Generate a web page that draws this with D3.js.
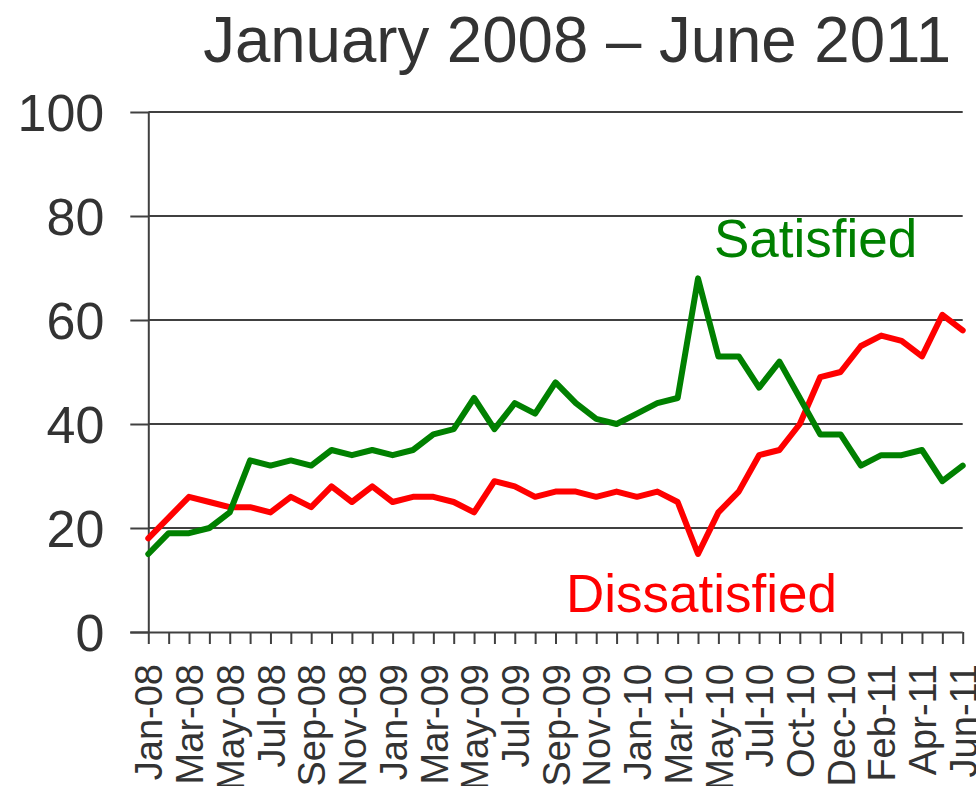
<!DOCTYPE html>
<html>
<head>
<meta charset="utf-8">
<script src="https://cdn.jsdelivr.net/npm/d3@7"></script>
<style>
  html, body { margin: 0; padding: 0; background: #fff; }
  svg { display: block; font-family: "Liberation Sans", Arial, sans-serif; }
</style>
</head>
<body>
<svg id="chart" width="976" height="786"></svg>
<script>
// ---- data ----
const titleText = "January 2008 \u2013 June 2011";
const categories = [
  "Jan-08","Feb-08","Mar-08","Apr-08","May-08","Jun-08","Jul-08","Aug-08","Sep-08","Oct-08","Nov-08","Dec-08",
  "Jan-09","Feb-09","Mar-09","Apr-09","May-09","Jun-09","Jul-09","Aug-09","Sep-09","Oct-09","Nov-09","Dec-09",
  "Jan-10","Feb-10","Mar-10","Apr-10","May-10","Jun-10","Jul-10","Sep-10","Oct-10","Nov-10","Dec-10",
  "Jan-11","Feb-11","Mar-11","Apr-11","May-11","Jun-11"
];
const satisfied = [
  15,19,19,20,23,33,32,33,32,35,34,35,
  34,35,38,39,45,39,44,42,48,44,41,40,
  42,44,45,68,53,53,47,52,45,38,38,
  32,34,34,35,29,32
];
const dissatisfied = [
  18,22,26,25,24,24,23,26,24,28,25,28,
  25,26,26,25,23,29,28,26,27,27,26,27,
  26,27,25,15,23,27,34,35,40,49,50,
  55,57,56,53,61,58
];
const yTicks = [0, 20, 40, 60, 80, 100];
const seriesLabels = ["Satisfied", "Dissatisfied"];

// ---- layout ----
const svg = d3.select("#chart");
const plotLeft = 148.3, plotRight = 962.7, plotTop = 112, plotBottom = 632;
const axisColor = "#404040";
const textColor = "#333333";

const x = d3.scalePoint().domain(categories).range([plotLeft, plotRight]);
const y = d3.scaleLinear().domain([0, 100]).range([plotBottom, plotTop]);

// title
svg.append("text")
  .attr("transform", "translate(951,62) scale(0.978,1)")
  .attr("text-anchor", "end")
  .attr("font-size", 65)
  .attr("fill", textColor)
  .text(titleText);

// gridlines
svg.append("g")
  .selectAll("line")
  .data(yTicks.filter(d => d > 0))
  .join("line")
  .attr("x1", plotLeft).attr("x2", plotRight)
  .attr("y1", d => y(d)).attr("y2", d => y(d))
  .attr("stroke", axisColor).attr("stroke-width", 2);

// y axis
const yAxis = svg.append("g")
  .attr("transform", `translate(${plotLeft},0)`)
  .call(d3.axisLeft(y).tickValues(yTicks).tickSize(18).tickPadding(26).tickFormat(d3.format("d")));
yAxis.select(".domain").attr("stroke", axisColor).attr("stroke-width", 2)
  .attr("d", `M0.5,${plotTop}V${plotBottom}`);
yAxis.selectAll(".tick line").attr("stroke", axisColor).attr("stroke-width", 2);
yAxis.selectAll(".tick text")
  .attr("font-size", 52)
  .attr("font-family", "'Liberation Sans', Arial, sans-serif")
  .attr("fill", textColor)
  .attr("dy", "0.36em");

// x axis
const xAxis = svg.append("g")
  .attr("transform", `translate(0,${plotBottom})`)
  .call(d3.axisBottom(x).tickSizeInner(12).tickSizeOuter(0)
    .tickFormat((d, i) => i % 2 === 0 ? d : ""));
xAxis.select(".domain").attr("stroke", axisColor).attr("stroke-width", 2)
  .attr("d", `M${plotLeft - 18},0.5H${plotRight}`);
xAxis.selectAll(".tick line").attr("stroke", axisColor).attr("stroke-width", 2);
xAxis.selectAll(".tick text")
  .attr("font-size", 38)
  .attr("font-family", "'Liberation Sans', Arial, sans-serif")
  .attr("fill", textColor)
  .attr("text-anchor", "end")
  .attr("transform", "rotate(-90)")
  .attr("x", -32)
  .attr("y", 0)
  .attr("dy", "0.36em");

// lines
const line = d3.line()
  .x((d, i) => x(categories[i]))
  .y(d => y(d));

svg.append("path")
  .datum(dissatisfied)
  .attr("d", line)
  .attr("fill", "none")
  .attr("stroke", "#ff0000")
  .attr("stroke-width", 6)
  .attr("stroke-linejoin", "round")
  .attr("stroke-linecap", "round");

svg.append("path")
  .datum(satisfied)
  .attr("d", line)
  .attr("fill", "none")
  .attr("stroke", "#008000")
  .attr("stroke-width", 6)
  .attr("stroke-linejoin", "round")
  .attr("stroke-linecap", "round");

// series labels
svg.append("text")
  .attr("x", 714).attr("y", 257)
  .attr("font-size", 53)
  .attr("fill", "#008000")
  .text(seriesLabels[0]);

svg.append("text")
  .attr("x", 566).attr("y", 612)
  .attr("font-size", 53)
  .attr("fill", "#ff0000")
  .text(seriesLabels[1]);
</script>
</body>
</html>
